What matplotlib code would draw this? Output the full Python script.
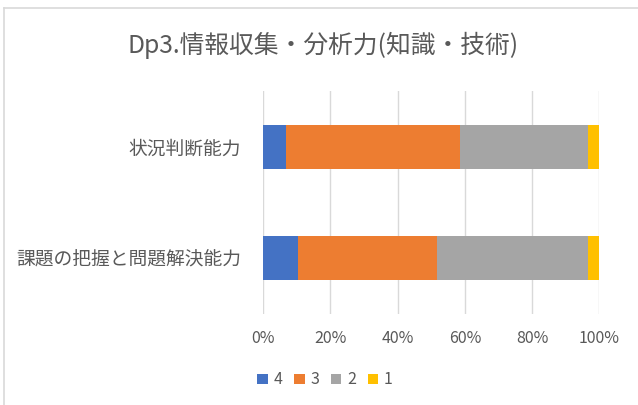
import matplotlib.pyplot as plt
from matplotlib.lines import Line2D
from matplotlib.ticker import PercentFormatter

plt.rcParams['font.family'] = ['Noto Sans CJK JP', 'DejaVu Sans']

# data (answer shares in %, n=29)
categories = ['課題の把握と問題解決能力', '状況判断能力']
levels     = ['4', '3', '2', '1']
shares = {'4': [10.3, 6.9],
          '3': [41.4, 51.7],
          '2': [44.8, 37.9],
          '1': [3.4, 3.4],
          }
colors = {'4': '#4472C4', '3': '#ED7D31', '2': '#A5A5A5', '1': '#FFC000'}

text_color = '#595959'
grid_color = '#D9D9D9'

fig = plt.figure(figsize=(6.38, 4.05), dpi=100)
ax = fig.add_axes([0.4127, 0.2259, 0.5266, 0.5482])

left = [0.0] * len(categories)
for lvl in levels:
    ax.barh(range(len(categories)), shares[lvl], left=left, height=0.4,
            color=colors[lvl], label=lvl, zorder=2)
    left = [a + b for a, b in zip(left, shares[lvl])]

ax.set_xlim(0, 100)
ax.set_ylim(-0.5, 1.5)
ax.set_xticks([0, 20, 40, 60, 80, 100])
ax.xaxis.set_major_formatter(PercentFormatter(decimals=0))
ax.set_yticks(range(len(categories)))
ax.set_yticklabels(categories)

ax.grid(axis='x', color=grid_color, linewidth=1.0, zorder=0)
for side in ax.spines.values():
    side.set_visible(False)
ax.tick_params(axis='x', length=0, pad=12, labelsize=11.5, labelcolor=text_color)
ax.tick_params(axis='y', length=0, pad=16, labelsize=13.5, labelcolor=text_color)

fig.suptitle('Dp3.情報収集・分析力(知識・技術)', x=0.507, y=1 - 45 / 405, va='center',
             fontsize=17.8, color=text_color)

ax.legend(loc='center', bbox_to_anchor=(325 / 638, 1 - 380 / 405),
          bbox_transform=fig.transFigure, ncols=4, frameon=False,
          handlelength=0.65, handleheight=0.65, handletextpad=0.35,
          columnspacing=0.75, fontsize=11.5, labelcolor=text_color)

# chart area border (left and top edges)
fig.add_artist(Line2D([3.5 / 638, 3.5 / 638], [0, 1 - 7.5 / 405],
                      transform=fig.transFigure, color=grid_color, linewidth=1.2))
fig.add_artist(Line2D([3.5 / 638, 1], [1 - 7.5 / 405, 1 - 7.5 / 405],
                      transform=fig.transFigure, color=grid_color, linewidth=1.2))

fig.savefig('out.png', dpi=100)
